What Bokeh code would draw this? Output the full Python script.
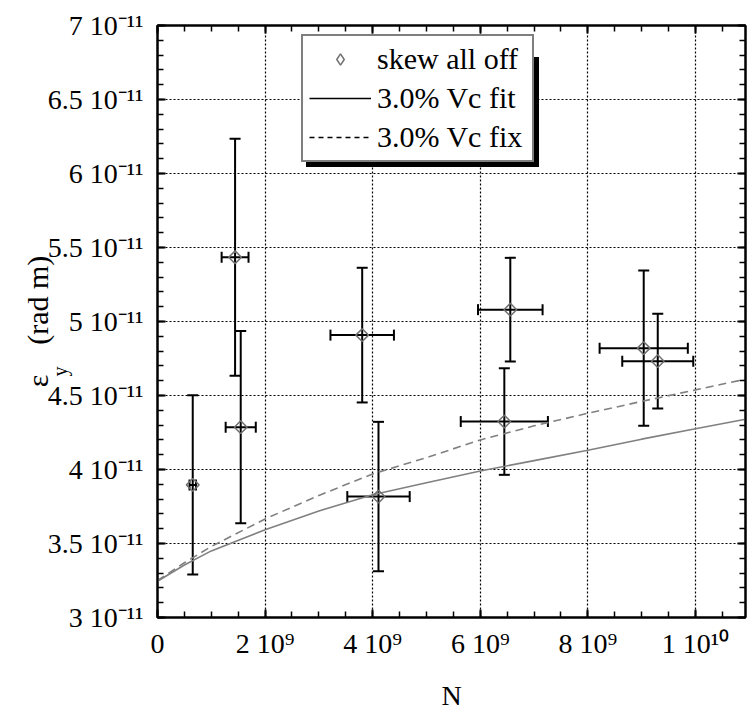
import numpy as np
from bokeh.plotting import figure
from bokeh.models import (ColumnDataSource, Range1d, LinearAxis, FixedTicker, Grid,
                          Whisker, TeeHead, Legend, LegendItem, CustomLabelingPolicy)
from bokeh.embed import file_html
from bokeh.resources import INLINE

# ---------------- data ----------------
N_pts = [0.655e9, 1.442e9, 1.547e9, 3.805e9, 4.108e9, 6.558e9, 6.447e9, 9.038e9, 9.299e9]
N_err = [0.06e9, 0.25e9, 0.28e9, 0.59e9, 0.58e9, 0.60e9, 0.81e9, 0.82e9, 0.66e9]
eps_pts = [3.896e-11, 5.434e-11, 4.286e-11, 4.908e-11, 3.817e-11, 5.080e-11, 4.324e-11, 4.820e-11, 4.732e-11]
eps_err = [0.605e-11, 0.80e-11, 0.65e-11, 0.455e-11, 0.505e-11, 0.35e-11, 0.36e-11, 0.525e-11, 0.32e-11]

curve_N = [0, 0.5e9, 1e9, 2e9, 3e9, 4e9, 5e9, 6e9, 7e9, 8e9, 9e9, 10e9, 10.93e9]
fit_eps = [3.245e-11, 3.355e-11, 3.45e-11, 3.593e-11, 3.72e-11, 3.83e-11, 3.91e-11,
           3.99e-11, 4.06e-11, 4.13e-11, 4.205e-11, 4.275e-11, 4.34e-11]
fix_eps = [3.25e-11, 3.37e-11, 3.48e-11, 3.666e-11, 3.825e-11, 3.97e-11, 4.08e-11,
           4.2e-11, 4.295e-11, 4.38e-11, 4.46e-11, 4.538e-11, 4.61e-11]

x_ticks = [0, 2e9, 4e9, 6e9, 8e9, 1e10]
x_tick_labels = ["0", "2 10\u2079", "4 10\u2079", "6 10\u2079", "8 10\u2079", "1 10\u00b9\u2070"]
y_ticks = [3e-11, 3.5e-11, 4e-11, 4.5e-11, 5e-11, 5.5e-11, 6e-11, 6.5e-11, 7e-11]
y_tick_labels = ["3 10\u207b\u00b9\u00b9", "3.5 10\u207b\u00b9\u00b9", "4 10\u207b\u00b9\u00b9",
                 "4.5 10\u207b\u00b9\u00b9", "5 10\u207b\u00b9\u00b9", "5.5 10\u207b\u00b9\u00b9",
                 "6 10\u207b\u00b9\u00b9", "6.5 10\u207b\u00b9\u00b9", "7 10\u207b\u00b9\u00b9"]

legend_labels = ["skew all off", "3.0% Vc fit", "3.0% Vc fix"]
x_title = "N"
y_title_main = ["\u03b5", "(rad m)"]
y_title_sub = "y"

FONT = "Liberation Serif"
TICK_FS = "28px"
NBSP = "\u00a0"

X0, X1 = 0, 1.093e10
Y0, Y1 = 3e-11, 7e-11

p = figure(width=748, height=715, output_backend="svg", toolbar_location=None,
           x_range=Range1d(X0, X1), y_range=Range1d(Y0, Y1),
           x_axis_type=None, y_axis_type=None,
           min_border_left=157, min_border_right=3, min_border_top=25, min_border_bottom=98)
p.outline_line_color = "black"
p.outline_line_width = 2
p.background_fill_color = "white"
p.border_fill_color = "white"

xticker = FixedTicker(ticks=x_ticks, minor_ticks=[i * 0.5e9 for i in range(0, 23)])
yticker = FixedTicker(ticks=y_ticks, minor_ticks=[(30 + i) * 1e-12 for i in range(0, 41)])


def hide_labels(ax):
    ax.major_label_text_font_size = "0px"
    ax.major_label_policy = CustomLabelingPolicy(code="return []")
    ax.major_label_standoff = 0


def style_axis(ax, show_labels):
    ax.axis_line_color = "black"
    ax.axis_line_width = 2
    ax.major_tick_in = 8
    ax.major_tick_out = 0
    ax.minor_tick_in = 6
    ax.minor_tick_out = 0
    ax.major_tick_line_width = 2
    ax.minor_tick_line_width = 1.5
    ax.major_tick_line_color = "black"
    ax.minor_tick_line_color = "black"
    if show_labels:
        ax.major_label_text_font = FONT
        ax.major_label_text_font_size = TICK_FS
        ax.major_label_text_color = "black"
    else:
        hide_labels(ax)
    return ax


def style_title(ax, text, size, standoff):
    ax.axis_label = text
    ax.axis_label_text_font = FONT
    ax.axis_label_text_font_size = size
    ax.axis_label_text_font_style = "normal"
    ax.axis_label_text_color = "black"
    ax.axis_label_standoff = standoff


xb = style_axis(LinearAxis(ticker=xticker), True)
xb.major_label_overrides = {t: l for t, l in zip(x_ticks, x_tick_labels)}
xb.major_label_standoff = 10
style_title(xb, x_title, "28px", 18)
p.add_layout(xb, "below")

# left axis with tick labels; its title carries the subscript "y"
yl = style_axis(LinearAxis(ticker=yticker), True)
yl.major_label_overrides = {t: l for t, l in zip(y_ticks, y_tick_labels)}
yl.major_label_standoff = 14
style_title(yl, y_title_sub + NBSP * 20, "20px", -26)
p.add_layout(yl, "left")

# second (invisible) left axis carrying "ε  (rad m)"
yt = LinearAxis(ticker=yticker, axis_line_color=None, major_tick_line_color=None,
                minor_tick_line_color=None)
hide_labels(yt)
style_title(yt, y_title_main[0] + NBSP * 4 + y_title_main[1], "30px", -14)
p.add_layout(yt, "left")

p.add_layout(style_axis(LinearAxis(ticker=xticker), False), "above")
p.add_layout(style_axis(LinearAxis(ticker=yticker), False), "right")

p.add_layout(Grid(dimension=0, ticker=xticker, grid_line_color="black",
                  grid_line_dash="2 2", grid_line_width=1.2))
p.add_layout(Grid(dimension=1, ticker=yticker, grid_line_color="black",
                  grid_line_dash="2 2", grid_line_width=1.2))

# curves
p.line(curve_N, fit_eps, line_color="#808080", line_width=1.6)
p.line(curve_N, fix_eps, line_color="#808080", line_width=1.6, line_dash="8 5")

# points with error bars
src = ColumnDataSource(dict(
    x=N_pts, y=eps_pts,
    xl=[x - e for x, e in zip(N_pts, N_err)], xu=[x + e for x, e in zip(N_pts, N_err)],
    yl=[y - e for y, e in zip(eps_pts, eps_err)], yu=[y + e for y, e in zip(eps_pts, eps_err)],
))
sc = p.scatter("x", "y", source=src, marker="square", angle=np.pi / 4, size=9,
               fill_color=None, line_color="#707070", line_width=1.5)
for dim, base, lo, up in (("height", "x", "yl", "yu"), ("width", "y", "xl", "xu")):
    p.add_layout(Whisker(source=src, base=base, lower=lo, upper=up, dimension=dim,
                         line_color="black", line_width=2,
                         upper_head=TeeHead(size=11, line_width=2, line_color="black"),
                         lower_head=TeeHead(size=11, line_width=2, line_color="black")))

# legend key renderers (styled as in the original legend; they draw nothing in the plot)
pt_key = p.scatter(x=[np.nan], y=[np.nan], marker="diamond", size=15,
                   fill_color=None, line_color="#707070", line_width=1.5)
fit_key = p.line(x=[np.nan, np.nan], y=[np.nan, np.nan], line_color="black", line_width=1.6)
fix_key = p.line(x=[np.nan, np.nan], y=[np.nan, np.nan], line_color="black", line_width=1.6,
                 line_dash="5 4")


def make_legend(loc, shadow):
    labels = ["", "", ""] if shadow else legend_labels
    lg = Legend(items=[LegendItem(label=labels[0], renderers=[pt_key]),
                       LegendItem(label=labels[1], renderers=[fit_key]),
                       LegendItem(label=labels[2], renderers=[fix_key])],
                location=loc, orientation="vertical",
                label_text_font=FONT, label_text_font_size="30px",
                label_text_color="black",
                glyph_width=62, glyph_height=28, label_height=28, label_width=149,
                label_standoff=6, spacing=5, padding=6, margin=0,
                border_line_color="black", border_line_width=2,
                background_fill_color="black" if shadow else "white",
                background_fill_alpha=1.0)
    return lg


p.add_layout(make_legend((149, 450), True))
p.add_layout(make_legend((144, 455), False))

open("out.html", "w").write(file_html(p, INLINE))
